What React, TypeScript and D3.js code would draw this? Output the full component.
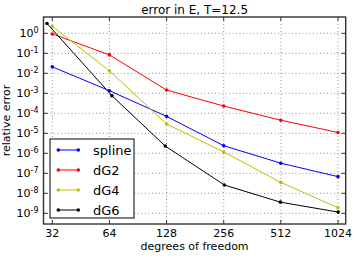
import * as React from "react";
import * as d3 from "d3";

// degrees of freedom
const dof = [32, 64, 128, 256, 512, 1024];
const dofDG6 = [30, 66, 126, 258, 510, 1026];
const xTicks = [32, 64, 128, 256, 512, 1024];
const yExps = [0, -1, -2, -3, -4, -5, -6, -7, -8, -9];

const spline = [2.1e-2, 1.35e-3, 7e-5, 2.4e-6, 3.2e-7, 6.8e-8];
const dG2 = [0.93, 8.3e-2, 1.45e-3, 2.3e-4, 4.5e-5, 1.1e-5];
const dG4 = [2.2, 1.35e-2, 2.9e-5, 1.17e-6, 3.5e-8, 1.9e-9];
const dG6 = [3.1, 7.5e-4, 2.3e-6, 2.6e-8, 3.6e-9, 1.15e-9];

const seriesNames = ["spline", "dG2", "dG4", "dG6"];
const seriesColors = ["#0000ff", "#ff0000", "#bfbf00", "#000000"];

export default function App() {
  let width = 354;
  let height = 257;
  let margin = { top: 17, right: 8.3, bottom: 33, left: 43.5 };
  let x0 = margin.left;
  let x1 = width - margin.right;
  let y0 = height - margin.bottom;
  let y1 = margin.top;

  const x = d3
    .scaleLog()
    .base(2)
    .domain([32 / Math.pow(2, 0.154), 1024 * Math.pow(2, 0.135)])
    .range([x0, x1]);
  const y = d3
    .scaleLog()
    .domain([Math.pow(10, -9.535), Math.pow(10, 0.815)])
    .range([y0, y1]);

  const series = [
    { name: seriesNames[0], xs: dof, ys: spline, color: seriesColors[0] },
    { name: seriesNames[1], xs: dof, ys: dG2, color: seriesColors[1] },
    { name: seriesNames[2], xs: dof, ys: dG4, color: seriesColors[2] },
    { name: seriesNames[3], xs: dofDG6, ys: dG6, color: seriesColors[3] },
  ];

  const line = d3
    .line<[number, number]>()
    .x((d) => x(d[0]))
    .y((d) => y(d[1]));

  const font = "DejaVu Sans, sans-serif";
  const tick = 4;

  // legend box
  let lg = { x: 50, y: 139, w: 84, h: 79 };

  return (
    <svg
      width={width}
      height={height}
      style={{ position: "fixed", left: 0, top: 0, background: "#fff" }}
      fontFamily={font}
    >
      <rect x={0} y={0} width={width} height={height} fill="#fff" />
      <text x={(x0 + x1) / 2} y={13.5} fontSize={12} textAnchor="middle">
        error in E, T=12.5
      </text>

      {/* grid */}
      <g stroke="#000" strokeWidth={0.6} strokeDasharray="1,2.5" opacity={0.7}>
        {xTicks.map((t) => (
          <line key={"gx" + t} x1={x(t)} x2={x(t)} y1={y1} y2={y0} />
        ))}
        {yExps.map((e) => (
          <line key={"gy" + e} x1={x0} x2={x1} y1={y(Math.pow(10, e))} y2={y(Math.pow(10, e))} />
        ))}
      </g>

      {/* series */}
      {series.map((s) => {
        const pts: [number, number][] = s.xs.map((d, i) => [d, s.ys[i]]);
        return (
          <g key={s.name}>
            <path d={line(pts) || ""} fill="none" stroke={s.color} strokeWidth={1} />
            {pts.map((p, i) => (
              <circle key={i} cx={x(p[0])} cy={y(p[1])} r={1.8} fill={s.color} />
            ))}
          </g>
        );
      })}

      {/* ticks */}
      <g stroke="#000" strokeWidth={0.8}>
        {xTicks.map((t) => (
          <g key={"tx" + t}>
            <line x1={x(t)} x2={x(t)} y1={y0} y2={y0 - tick} />
            <line x1={x(t)} x2={x(t)} y1={y1} y2={y1 + tick} />
          </g>
        ))}
        {yExps.map((e) => (
          <g key={"ty" + e}>
            <line x1={x0} x2={x0 + tick} y1={y(Math.pow(10, e))} y2={y(Math.pow(10, e))} />
            <line x1={x1} x2={x1 - tick} y1={y(Math.pow(10, e))} y2={y(Math.pow(10, e))} />
          </g>
        ))}
      </g>

      {/* frame */}
      <rect x={x0} y={y1} width={x1 - x0} height={y0 - y1} fill="none" stroke="#333" strokeWidth={1.4} />

      {/* tick labels */}
      {xTicks.map((t) => (
        <text key={"lx" + t} x={x(t)} y={y0 + 13} fontSize={11} textAnchor="middle">
          {t}
        </text>
      ))}
      {yExps.map((e) => (
        <text key={"ly" + e} x={38.5} y={y(Math.pow(10, e)) + 4} fontSize={11} textAnchor="end">
          10
          <tspan dy={-4.5} fontSize={8}>
            {e}
          </tspan>
        </text>
      ))}

      <text x={(x0 + x1) / 2} y={250} fontSize={11} textAnchor="middle">
        degrees of freedom
      </text>
      <text
        transform={`translate(10,${(y0 + y1) / 2}) rotate(-90)`}
        fontSize={11}
        textAnchor="middle"
      >
        relative error
      </text>

      {/* legend */}
      <rect x={lg.x} y={lg.y} width={lg.w} height={lg.h} fill="#fff" stroke="#000" strokeWidth={1} />
      {series.map((s, i) => {
        let ly = lg.y + 11 + i * 20;
        return (
          <g key={"lg" + s.name}>
            <line x1={58.3} x2={78.3} y1={ly} y2={ly} stroke={s.color} strokeWidth={1} />
            <circle cx={58.3} cy={ly} r={1.8} fill={s.color} />
            <circle cx={78.3} cy={ly} r={1.8} fill={s.color} />
            <text x={93} y={ly + 4.5} fontSize={13}>
              {s.name}
            </text>
          </g>
        );
      })}
    </svg>
  );
}
